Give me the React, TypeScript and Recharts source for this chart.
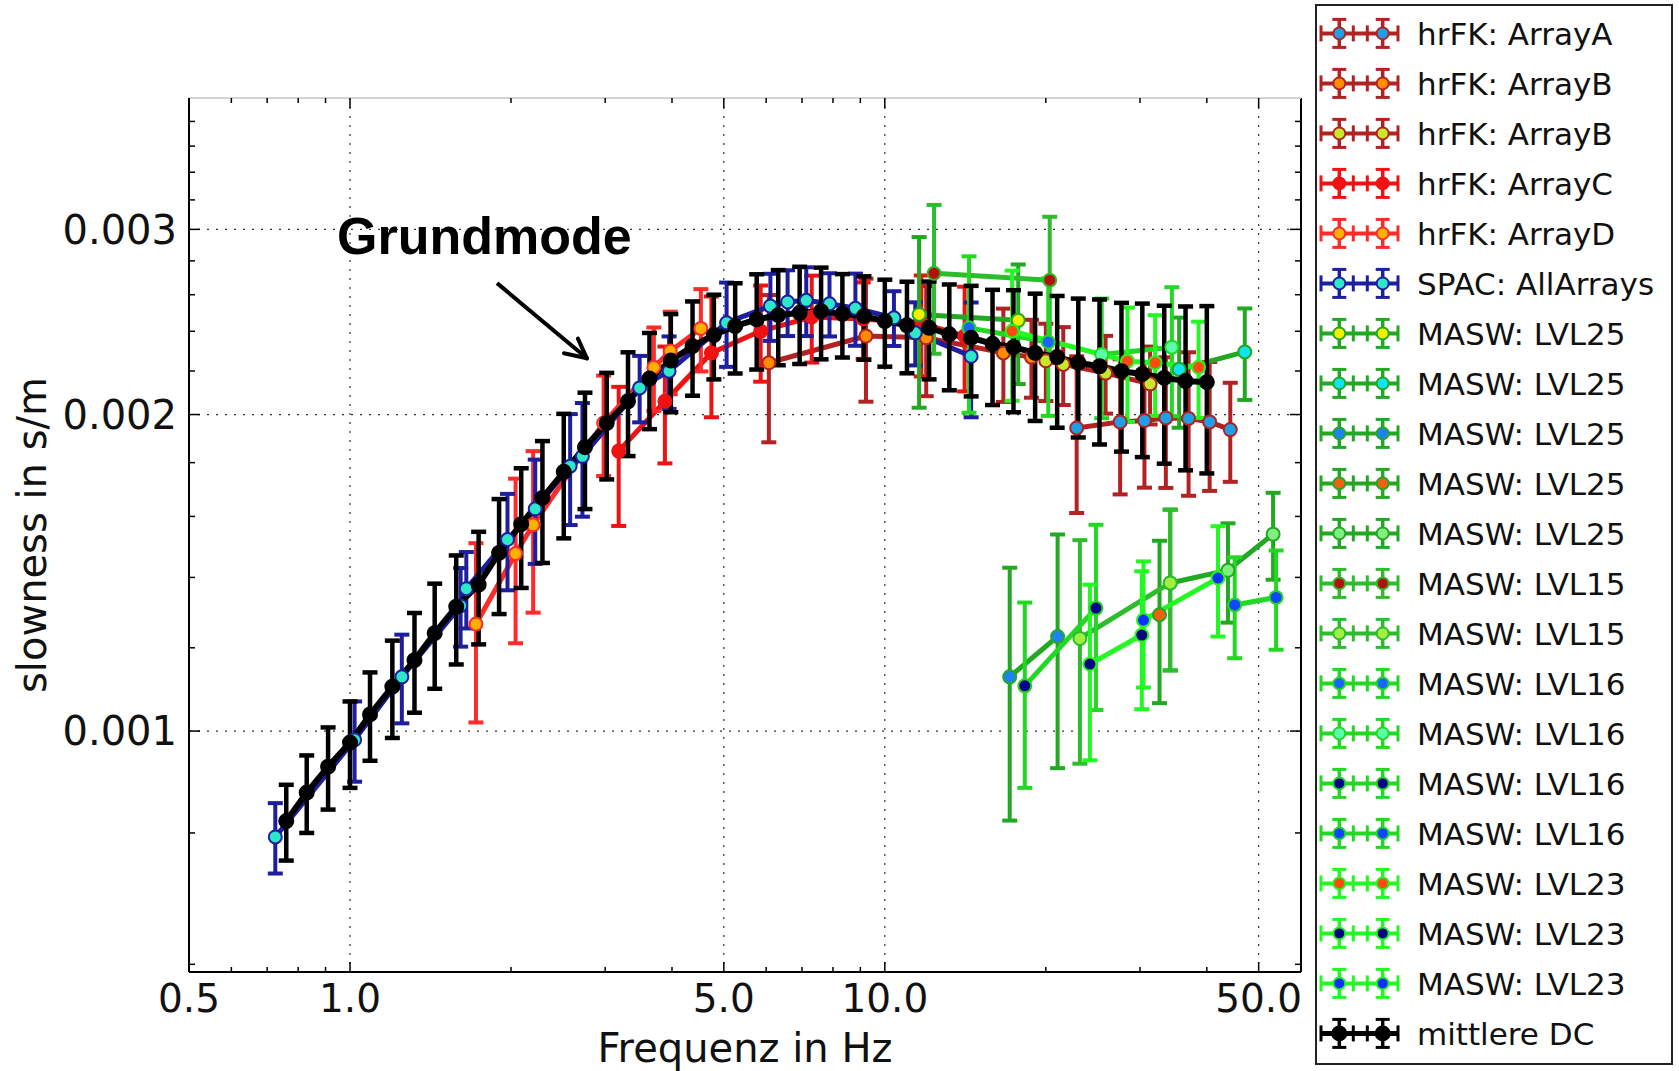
import React from "react";
import {
  ComposedChart,
  Line,
  XAxis,
  YAxis,
  CartesianGrid,
  ErrorBar,
  ReferenceLine,
  ReferenceDot,
  Label,
} from "recharts";

// each row: [frequency in Hz, slowness in s/m, error in s/m]
type Row = [number, number, number];

const hrfkArrayA: Row[] = [
  [22.84, 0.001942, 0.00033],
  [27.54, 0.001968, 0.000289],
  [30.58, 0.001974, 0.00027],
  [33.53, 0.001985, 0.000282],
  [36.98, 0.001983, 0.000309],
  [40.49, 0.001968, 0.000276],
  [44.25, 0.001935, 0.000209],
];
const hrfkArrayB1: Row[] = [
  [6.07, 0.00224, 0.000358],
  [9.22, 0.002375, 0.000318],
  [11.95, 0.002366, 0.000284],
  [16.66, 0.002289, 0.000233],
  [18.8, 0.002268, 0.000193],
];
const hrfkArrayB2: Row[] = [
  [20.0, 0.00225, 0.00019],
  [21.56, 0.002232, 0.00019],
  [25.87, 0.00219, 0.000186],
  [31.33, 0.002139, 0.000182],
];
const hrfkArrayC: Row[] = [
  [3.18, 0.001846, 0.000279],
  [3.88, 0.002059, 0.000262],
  [4.74, 0.002289, 0.000301],
  [5.86, 0.002401, 0.000252],
  [7.3, 0.002476, 0.000235],
  [9.11, 0.002465, 0.000206],
  [11.7, 0.002443, 0.000269],
  [14.1, 0.002375, 0.000271],
];
const hrfkArrayD: Row[] = [
  [1.72, 0.001264, 0.000245],
  [2.04, 0.001475, 0.000263],
  [2.2, 0.001571, 0.000275],
  [2.98, 0.001963, 0.000215],
  [3.7, 0.002218, 0.000202],
  [3.97, 0.002298, 0.000207],
  [4.53, 0.002415, 0.000217],
];
const spacAll: Row[] = [
  [0.725, 0.000793, 0.000061],
  [1.02, 0.000981, 0.000086],
  [1.25, 0.001126, 0.000109],
  [1.61, 0.001316, 0.000113],
  [1.65, 0.001366, 0.000114],
  [1.97, 0.001521, 0.00016],
  [2.22, 0.001627, 0.000185],
  [2.58, 0.001786, 0.000216],
  [2.72, 0.001825, 0.000226],
  [3.48, 0.00212, 0.000154],
  [3.95, 0.002199, 0.000174],
  [5.06, 0.002445, 0.000225],
  [6.11, 0.002536, 0.000186],
  [6.58, 0.002559, 0.000184],
  [7.13, 0.002568, 0.000193],
  [7.88, 0.002549, 0.000176],
  [8.81, 0.002524, 0.000199],
  [10.4, 0.002472, 0.000148],
  [11.4, 0.002392, 0.000165],
  [14.5, 0.002272, 0.000284],
];
const maswLvl25a: Row[] = [[11.59, 0.00249, 0.00046], [17.76, 0.002458, 0.00032]];
const maswLvl25b: Row[] = [[35.51, 0.002208, 0.000265], [47.1, 0.002294, 0.000229]];
const maswLvl25c: Row[] = [[17.12, 0.001126, 0.000304], [21.04, 0.00123, 0.000308]];
const maswLvl25d: Row[] = [[32.63, 0.00129, 0.000227]];
const maswLvl25e: Row[] = [[34.17, 0.001383, 0.000241], [43.81, 0.001422, 0.000154], [53.21, 0.001539, 0.000146]];
const maswLvl15a: Row[] = [[12.36, 0.002725, 0.00044], [20.34, 0.002684, 0.0004]];
const maswLvl15b: Row[] = [[23.16, 0.001225, 0.000294], [34.17, 0.001383, 0.000241]];
const maswLvl16a: Row[] = [[14.37, 0.002418, 0.00041], [20.21, 0.002344, 0.00035]];
const maswLvl16b: Row[] = [[25.44, 0.002281, 0.000297], [34.41, 0.002318, 0.000325]];
const maswLvl16c: Row[] = [[18.27, 0.001104, 0.000221], [24.82, 0.001309, 0.000262]];
const maswLvl16d: Row[] = [[45.1, 0.001318, 0.000145], [53.9, 0.00134, 0.000145]];
const maswLvl23a: Row[] = [[17.3, 0.002401, 0.00034], [28.42, 0.002248, 0.00028], [32.02, 0.00224, 0.000246], [38.61, 0.002218, 0.000233]];
const maswLvl23b: Row[] = [[24.18, 0.001158, 0.00022], [30.23, 0.001234, 0.000185]];
const maswLvl23c: Row[] = [[30.45, 0.001275, 0.000175], [41.97, 0.001398, 0.000168]];
const meanDc: Row[] = [
  [0.76, 0.000821, 0.000068], [0.83, 0.000874, 0.000074], [0.91, 0.000925, 0.000083],
  [1.0, 0.000975, 0.000092], [1.09, 0.001037, 0.0001], [1.2, 0.001102, 0.000117],
  [1.32, 0.001168, 0.000127], [1.44, 0.001239, 0.000142], [1.58, 0.001313, 0.000156],
  [1.74, 0.001378, 0.000169], [1.9, 0.001477, 0.000185], [2.09, 0.001573, 0.000205],
  [2.29, 0.001666, 0.000221], [2.51, 0.001764, 0.000239], [2.75, 0.001862, 0.000236],
  [3.02, 0.001963, 0.000228], [3.31, 0.002059, 0.000233], [3.63, 0.002164, 0.000227],
  [3.98, 0.002251, 0.000241], [4.37, 0.002323, 0.000239], [4.79, 0.00238, 0.00022],
  [5.25, 0.002427, 0.000239], [5.76, 0.002463, 0.000256], [6.32, 0.002486, 0.000258],
  [6.93, 0.002499, 0.000265], [7.6, 0.002508, 0.000251], [8.33, 0.002493, 0.000227],
  [9.14, 0.002481, 0.000226], [10.0, 0.002454, 0.000233], [11.0, 0.002432, 0.000243],
  [12.1, 0.002418, 0.000258], [13.2, 0.002384, 0.000275], [14.5, 0.002366, 0.000285],
  [15.9, 0.002335, 0.000293], [17.4, 0.002318, 0.000308], [19.1, 0.002289, 0.000317],
  [21.0, 0.002268, 0.000325], [23.0, 0.00224, 0.000338], [25.2, 0.002223, 0.00035],
  [27.7, 0.002199, 0.000355], [30.3, 0.002186, 0.000364], [33.3, 0.002167, 0.000371],
  [36.5, 0.002152, 0.000382], [40.0, 0.002147, 0.000389],
];

const X_TICKS = [0.5, 0.6, 0.7, 0.8, 0.9, 1, 2, 3, 4, 5, 6, 7, 8, 9, 10, 20, 30, 40, 50];
const X_MAJOR = [0.5, 1, 5, 10, 50];
const X_LABELS = ["0.5", "1.0", "5.0", "10.0", "50.0"];
const Y_TICKS = [
  0.0006, 0.0008, 0.001, 0.0012, 0.0014, 0.0016, 0.0018, 0.002, 0.0022, 0.0024,
  0.0026, 0.0028, 0.003, 0.0032, 0.0034, 0.0036, 0.0038,
];
const Y_MAJOR = [0.001, 0.002, 0.003];
const Y_LABELS = ["0.001", "0.002", "0.003"];

// "Grundmode" annotation: text anchor, arrow shaft, two barbs
const NOTE_AT = { x: 0.9456, y: 0.002842 };
const ARROW_TAIL = { x: 1.883, y: 0.002667 };
const ARROW_HEAD = { x: 2.773, y: 0.002262 };
const ARROW_BARBS = [
  { x: 2.512, y: 0.002287 },
  { x: 2.668, y: 0.002362 },
];

const DARK_RED = "#b22222";
const G25 = "#22a822";
const G15 = "#2cbc2c";
const G16 = "#22d822";
const G23 = "#22f822";

const SERIES = [
  { name: "hrFK: ArrayA", rows: hrfkArrayA, line: DARK_RED, marker: "#1ea0e8" },
  { name: "hrFK: ArrayB", rows: hrfkArrayB1, line: DARK_RED, marker: "#ff8c00" },
  { name: "hrFK: ArrayB", rows: hrfkArrayB2, line: DARK_RED, marker: "#c8e82a" },
  { name: "hrFK: ArrayC", rows: hrfkArrayC, line: "#ee1212", marker: "#ee1212" },
  { name: "hrFK: ArrayD", rows: hrfkArrayD, line: "#ff2a2a", marker: "#ffb000" },
  { name: "SPAC: AllArrays", rows: spacAll, line: "#1e1ea0", marker: "#2ee6c8" },
  { name: "MASW: LVL25", rows: maswLvl25a, line: G25, marker: "#f0f000" },
  { name: "MASW: LVL25", rows: maswLvl25b, line: G25, marker: "#10e4f0" },
  { name: "MASW: LVL25", rows: maswLvl25c, line: G25, marker: "#1e82f0" },
  { name: "MASW: LVL25", rows: maswLvl25d, line: G25, marker: "#f06010" },
  { name: "MASW: LVL25", rows: maswLvl25e, line: G25, marker: "#80ee80" },
  { name: "MASW: LVL15", rows: maswLvl15a, line: G15, marker: "#b41010" },
  { name: "MASW: LVL15", rows: maswLvl15b, line: G15, marker: "#a0f040" },
  { name: "MASW: LVL16", rows: maswLvl16a, line: G16, marker: "#1a64ff" },
  { name: "MASW: LVL16", rows: maswLvl16b, line: G16, marker: "#5cffaa" },
  { name: "MASW: LVL16", rows: maswLvl16c, line: G16, marker: "#00008c" },
  { name: "MASW: LVL16", rows: maswLvl16d, line: G16, marker: "#1046ff" },
  { name: "MASW: LVL23", rows: maswLvl23a, line: G23, marker: "#ff4a10" },
  { name: "MASW: LVL23", rows: maswLvl23b, line: G23, marker: "#000080" },
  { name: "MASW: LVL23", rows: maswLvl23c, line: G23, marker: "#1030ff" },
  { name: "mittlere DC", rows: meanDc, line: "#000000", marker: "#000000" },
];

const FONT = "'DejaVu Sans', 'Noto Sans', sans-serif";
const W = 1679;
const H = 1071;
const PLOT_TOP = 98;
const PLOT_BOTTOM = 972;
const PLOT_LEFT = 189;
const PLOT_RIGHT = 1301;

function XTick(props: any) {
  const { x, payload } = props;
  const i = X_MAJOR.indexOf(payload.value);
  const len = i >= 0 ? 10 : 5;
  return (
    <g>
      <line x1={x} x2={x} y1={PLOT_BOTTOM} y2={PLOT_BOTTOM - len} stroke="#000" strokeWidth={1.5} />
      <line x1={x} x2={x} y1={PLOT_TOP} y2={PLOT_TOP + len} stroke="#000" strokeWidth={1.5} />
      {i >= 0 && (
        <text x={x} y={PLOT_BOTTOM + 40} textAnchor="middle" fontSize={39} fontFamily={FONT} fill="#111">
          {X_LABELS[i]}
        </text>
      )}
    </g>
  );
}

function YTick(props: any) {
  const { y, payload } = props;
  const i = Y_MAJOR.indexOf(payload.value);
  const len = i >= 0 ? 11 : 6;
  return (
    <g>
      <line x1={PLOT_LEFT} x2={PLOT_LEFT + len} y1={y} y2={y} stroke="#000" strokeWidth={1.5} />
      <line x1={PLOT_RIGHT - len} x2={PLOT_RIGHT} y1={y} y2={y} stroke="#000" strokeWidth={1.5} />
      {i >= 0 && (
        <text x={PLOT_LEFT - 12} y={y} dy="0.36em" textAnchor="end" fontSize={40} fontFamily={FONT} fill="#111">
          {Y_LABELS[i]}
        </text>
      )}
    </g>
  );
}

function LegendBox() {
  const left = 1315;
  return (
    <svg width={358} height={1061} style={{ position: "absolute", left, top: 4 }}>
      <rect x={1} y={1} width={356} height={1059} fill="#fff" stroke="#222" strokeWidth={2} />
      {SERIES.map((s, i) => {
        const cy = 29.4 + 50 * i;
        const dc = s.line === "#000000";
        return (
          <g key={i}>
            <line x1={6} x2={83} y1={cy} y2={cy} stroke={s.line} strokeWidth={dc ? 5 : 4} />
            {[6, 38.3, 52.3, 83].map((tx) => (
              <line key={tx} x1={tx} x2={tx} y1={cy - 8} y2={cy + 8} stroke={s.line} strokeWidth={3} />
            ))}
            {[24.3, 67.7].map((mx) => (
              <g key={mx}>
                <line x1={mx} x2={mx} y1={cy - 14} y2={cy + 14} stroke={s.line} strokeWidth={3.5} />
                <line x1={mx - 7} x2={mx + 7} y1={cy - 14} y2={cy - 14} stroke={s.line} strokeWidth={3} />
                <line x1={mx - 7} x2={mx + 7} y1={cy + 14} y2={cy + 14} stroke={s.line} strokeWidth={3} />
                <circle cx={mx} cy={cy} r={dc ? 7 : 6} fill={s.marker} stroke={s.line} strokeWidth={2} />
              </g>
            ))}
            <text x={102} y={cy} dy="0.36em" fontSize={31} fontFamily={FONT} fill="#111">
              {s.name}
            </text>
          </g>
        );
      })}
    </svg>
  );
}

export default function App() {
  return (
    <div style={{ position: "absolute", left: 0, top: 0, width: W, height: H, background: "#fff" }}>
      <ComposedChart width={W} height={H} margin={{ top: PLOT_TOP, right: W - PLOT_RIGHT, bottom: 0, left: 0 }}>
        <CartesianGrid
          verticalValues={[1, 5, 10, 50]}
          horizontalValues={Y_MAJOR}
          stroke="#333"
          strokeDasharray="2 7"
          strokeWidth={1.2}
        />
        <XAxis
          dataKey="f"
          type="number"
          scale="log"
          domain={[0.5, 60]}
          allowDataOverflow
          ticks={X_TICKS}
          interval={0}
          tickSize={0}
          tickMargin={0}
          tickLine={false}
          height={H - PLOT_BOTTOM}
          axisLine={{ stroke: "#000", strokeWidth: 2 }}
          tick={(p: any) => <XTick {...p} />}
        >
          <Label value="Frequenz in Hz" position="insideBottom" offset={9} style={{ fontSize: 40, fontFamily: FONT, fill: "#111" }} />
        </XAxis>
        <YAxis
          type="number"
          scale="log"
          domain={[0.00059, 0.004]}
          allowDataOverflow
          ticks={Y_TICKS}
          interval={0}
          tickSize={0}
          tickMargin={0}
          tickLine={false}
          width={PLOT_LEFT}
          axisLine={{ stroke: "#000", strokeWidth: 2 }}
          tick={(p: any) => <YTick {...p} />}
        >
          <Label
            value="slowness in s/m"
            angle={-90}
            position="insideLeft"
            offset={32}
            style={{ fontSize: 40, fontFamily: FONT, fill: "#111", textAnchor: "middle" }}
          />
        </YAxis>

        {SERIES.map((s, i) => {
          const dc = s.line === "#000000";
          const rows = s.rows.map(([f, v, e]) => ({ f, s: v, e }));
          return (
            <Line
              key={i}
              data={rows}
              dataKey="s"
              type="linear"
              stroke={s.line}
              strokeWidth={dc ? 6 : 5}
              dot={{ r: dc ? 7 : 6.5, fill: s.marker, stroke: s.line, strokeWidth: 2 }}
              activeDot={false}
              isAnimationActive={false}
            >
              <ErrorBar dataKey="e" direction="y" width={7.5} stroke={s.line} strokeWidth={dc ? 4.5 : 4} />
            </Line>
          );
        })}

        <ReferenceLine x={60} stroke="#000" strokeWidth={2} />
        <ReferenceLine y={0.004} stroke="#d4d4d4" strokeWidth={2} />

        <ReferenceLine segment={[ARROW_TAIL, ARROW_HEAD]} stroke="#000" strokeWidth={4} />
        {ARROW_BARBS.map((b, i) => (
          <ReferenceLine key={i} segment={[b, ARROW_HEAD]} stroke="#000" strokeWidth={4} strokeLinecap="round" />
        ))}
        <ReferenceDot
          x={NOTE_AT.x}
          y={NOTE_AT.y}
          r={0}
          shape={(p: any) => (
            <text x={p.cx} y={p.cy} fontSize={52} fontWeight="bold" fontFamily="'Liberation Sans', Arial, sans-serif" fill="#000">
              Grundmode
            </text>
          )}
        />
      </ComposedChart>
      <LegendBox />
    </div>
  );
}
